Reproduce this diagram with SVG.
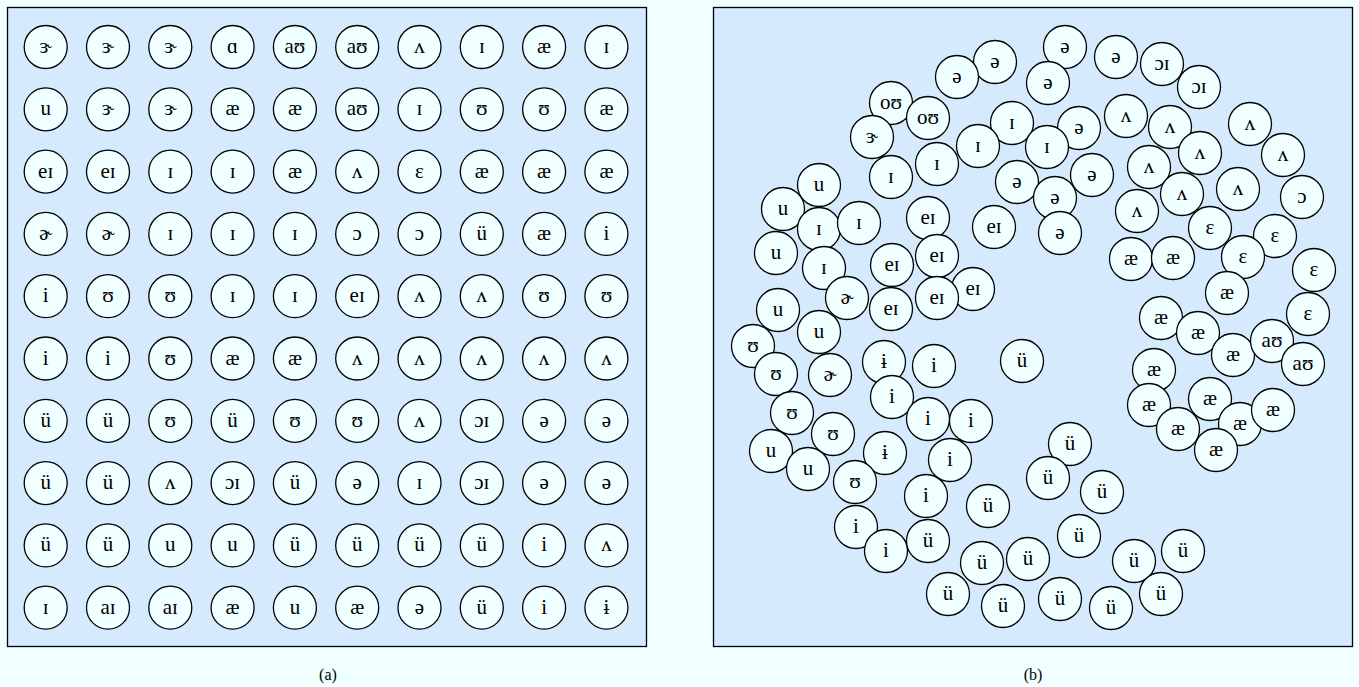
<svg xmlns="http://www.w3.org/2000/svg" width="1359" height="687" viewBox="0 0 1359 687">
<style>
.bg{fill:#F0FFFF}
.panel{fill:#D6EAFE;stroke:#000;stroke-width:1.3}
.n circle{fill:#F0FFFF;stroke:#000;stroke-width:1.3}
</style>
<rect class="bg" x="0" y="0" width="1359" height="687"/>
<rect class="panel" x="7.5" y="7.5" width="639" height="639"/>
<rect class="panel" x="713.5" y="7.5" width="639" height="639"/>
<g id="panel-a" font-family="'Liberation Serif', 'DejaVu Serif', serif" font-size="21" text-anchor="middle" fill="#000">
<g id="a00" class="n" transform="translate(45.7,47)"><circle r="21.5"/><text y="6">ɝ</text></g>
<g id="a01" class="n" transform="translate(108,47)"><circle r="21.5"/><text y="6">ɝ</text></g>
<g id="a02" class="n" transform="translate(170.3,47)"><circle r="21.5"/><text y="6">ɝ</text></g>
<g id="a03" class="n" transform="translate(232.6,47)"><circle r="21.5"/><text y="6">ɑ</text></g>
<g id="a04" class="n" transform="translate(294.9,47)"><circle r="21.5"/><text y="6">aʊ</text></g>
<g id="a05" class="n" transform="translate(357.2,47)"><circle r="21.5"/><text y="6">aʊ</text></g>
<g id="a06" class="n" transform="translate(419.5,47)"><circle r="21.5"/><text y="6">ʌ</text></g>
<g id="a07" class="n" transform="translate(481.8,47)"><circle r="21.5"/><text y="6">ɪ</text></g>
<g id="a08" class="n" transform="translate(544.1,47)"><circle r="21.5"/><text y="6">æ</text></g>
<g id="a09" class="n" transform="translate(606.4,47)"><circle r="21.5"/><text y="6">ɪ</text></g>
<g id="a10" class="n" transform="translate(45.7,109.3)"><circle r="21.5"/><text y="6">u</text></g>
<g id="a11" class="n" transform="translate(108,109.3)"><circle r="21.5"/><text y="6">ɝ</text></g>
<g id="a12" class="n" transform="translate(170.3,109.3)"><circle r="21.5"/><text y="6">ɝ</text></g>
<g id="a13" class="n" transform="translate(232.6,109.3)"><circle r="21.5"/><text y="6">æ</text></g>
<g id="a14" class="n" transform="translate(294.9,109.3)"><circle r="21.5"/><text y="6">æ</text></g>
<g id="a15" class="n" transform="translate(357.2,109.3)"><circle r="21.5"/><text y="6">aʊ</text></g>
<g id="a16" class="n" transform="translate(419.5,109.3)"><circle r="21.5"/><text y="6">ɪ</text></g>
<g id="a17" class="n" transform="translate(481.8,109.3)"><circle r="21.5"/><text y="6">ʊ</text></g>
<g id="a18" class="n" transform="translate(544.1,109.3)"><circle r="21.5"/><text y="6">ʊ</text></g>
<g id="a19" class="n" transform="translate(606.4,109.3)"><circle r="21.5"/><text y="6">æ</text></g>
<g id="a20" class="n" transform="translate(45.7,171.6)"><circle r="21.5"/><text y="6">eɪ</text></g>
<g id="a21" class="n" transform="translate(108,171.6)"><circle r="21.5"/><text y="6">eɪ</text></g>
<g id="a22" class="n" transform="translate(170.3,171.6)"><circle r="21.5"/><text y="6">ɪ</text></g>
<g id="a23" class="n" transform="translate(232.6,171.6)"><circle r="21.5"/><text y="6">ɪ</text></g>
<g id="a24" class="n" transform="translate(294.9,171.6)"><circle r="21.5"/><text y="6">æ</text></g>
<g id="a25" class="n" transform="translate(357.2,171.6)"><circle r="21.5"/><text y="6">ʌ</text></g>
<g id="a26" class="n" transform="translate(419.5,171.6)"><circle r="21.5"/><text y="6">ɛ</text></g>
<g id="a27" class="n" transform="translate(481.8,171.6)"><circle r="21.5"/><text y="6">æ</text></g>
<g id="a28" class="n" transform="translate(544.1,171.6)"><circle r="21.5"/><text y="6">æ</text></g>
<g id="a29" class="n" transform="translate(606.4,171.6)"><circle r="21.5"/><text y="6">æ</text></g>
<g id="a30" class="n" transform="translate(45.7,233.9)"><circle r="21.5"/><text y="6">ɚ</text></g>
<g id="a31" class="n" transform="translate(108,233.9)"><circle r="21.5"/><text y="6">ɚ</text></g>
<g id="a32" class="n" transform="translate(170.3,233.9)"><circle r="21.5"/><text y="6">ɪ</text></g>
<g id="a33" class="n" transform="translate(232.6,233.9)"><circle r="21.5"/><text y="6">ɪ</text></g>
<g id="a34" class="n" transform="translate(294.9,233.9)"><circle r="21.5"/><text y="6">ɪ</text></g>
<g id="a35" class="n" transform="translate(357.2,233.9)"><circle r="21.5"/><text y="6">ɔ</text></g>
<g id="a36" class="n" transform="translate(419.5,233.9)"><circle r="21.5"/><text y="6">ɔ</text></g>
<g id="a37" class="n" transform="translate(481.8,233.9)"><circle r="21.5"/><text y="6">ü</text></g>
<g id="a38" class="n" transform="translate(544.1,233.9)"><circle r="21.5"/><text y="6">æ</text></g>
<g id="a39" class="n" transform="translate(606.4,233.9)"><circle r="21.5"/><text y="6">i</text></g>
<g id="a40" class="n" transform="translate(45.7,296.2)"><circle r="21.5"/><text y="6">i</text></g>
<g id="a41" class="n" transform="translate(108,296.2)"><circle r="21.5"/><text y="6">ʊ</text></g>
<g id="a42" class="n" transform="translate(170.3,296.2)"><circle r="21.5"/><text y="6">ʊ</text></g>
<g id="a43" class="n" transform="translate(232.6,296.2)"><circle r="21.5"/><text y="6">ɪ</text></g>
<g id="a44" class="n" transform="translate(294.9,296.2)"><circle r="21.5"/><text y="6">ɪ</text></g>
<g id="a45" class="n" transform="translate(357.2,296.2)"><circle r="21.5"/><text y="6">eɪ</text></g>
<g id="a46" class="n" transform="translate(419.5,296.2)"><circle r="21.5"/><text y="6">ʌ</text></g>
<g id="a47" class="n" transform="translate(481.8,296.2)"><circle r="21.5"/><text y="6">ʌ</text></g>
<g id="a48" class="n" transform="translate(544.1,296.2)"><circle r="21.5"/><text y="6">ʊ</text></g>
<g id="a49" class="n" transform="translate(606.4,296.2)"><circle r="21.5"/><text y="6">ʊ</text></g>
<g id="a50" class="n" transform="translate(45.7,358.5)"><circle r="21.5"/><text y="6">i</text></g>
<g id="a51" class="n" transform="translate(108,358.5)"><circle r="21.5"/><text y="6">i</text></g>
<g id="a52" class="n" transform="translate(170.3,358.5)"><circle r="21.5"/><text y="6">ʊ</text></g>
<g id="a53" class="n" transform="translate(232.6,358.5)"><circle r="21.5"/><text y="6">æ</text></g>
<g id="a54" class="n" transform="translate(294.9,358.5)"><circle r="21.5"/><text y="6">æ</text></g>
<g id="a55" class="n" transform="translate(357.2,358.5)"><circle r="21.5"/><text y="6">ʌ</text></g>
<g id="a56" class="n" transform="translate(419.5,358.5)"><circle r="21.5"/><text y="6">ʌ</text></g>
<g id="a57" class="n" transform="translate(481.8,358.5)"><circle r="21.5"/><text y="6">ʌ</text></g>
<g id="a58" class="n" transform="translate(544.1,358.5)"><circle r="21.5"/><text y="6">ʌ</text></g>
<g id="a59" class="n" transform="translate(606.4,358.5)"><circle r="21.5"/><text y="6">ʌ</text></g>
<g id="a60" class="n" transform="translate(45.7,420.8)"><circle r="21.5"/><text y="6">ü</text></g>
<g id="a61" class="n" transform="translate(108,420.8)"><circle r="21.5"/><text y="6">ü</text></g>
<g id="a62" class="n" transform="translate(170.3,420.8)"><circle r="21.5"/><text y="6">ʊ</text></g>
<g id="a63" class="n" transform="translate(232.6,420.8)"><circle r="21.5"/><text y="6">ü</text></g>
<g id="a64" class="n" transform="translate(294.9,420.8)"><circle r="21.5"/><text y="6">ʊ</text></g>
<g id="a65" class="n" transform="translate(357.2,420.8)"><circle r="21.5"/><text y="6">ʊ</text></g>
<g id="a66" class="n" transform="translate(419.5,420.8)"><circle r="21.5"/><text y="6">ʌ</text></g>
<g id="a67" class="n" transform="translate(481.8,420.8)"><circle r="21.5"/><text y="6">ɔɪ</text></g>
<g id="a68" class="n" transform="translate(544.1,420.8)"><circle r="21.5"/><text y="6">ə</text></g>
<g id="a69" class="n" transform="translate(606.4,420.8)"><circle r="21.5"/><text y="6">ə</text></g>
<g id="a70" class="n" transform="translate(45.7,483.1)"><circle r="21.5"/><text y="6">ü</text></g>
<g id="a71" class="n" transform="translate(108,483.1)"><circle r="21.5"/><text y="6">ü</text></g>
<g id="a72" class="n" transform="translate(170.3,483.1)"><circle r="21.5"/><text y="6">ʌ</text></g>
<g id="a73" class="n" transform="translate(232.6,483.1)"><circle r="21.5"/><text y="6">ɔɪ</text></g>
<g id="a74" class="n" transform="translate(294.9,483.1)"><circle r="21.5"/><text y="6">ü</text></g>
<g id="a75" class="n" transform="translate(357.2,483.1)"><circle r="21.5"/><text y="6">ə</text></g>
<g id="a76" class="n" transform="translate(419.5,483.1)"><circle r="21.5"/><text y="6">ɪ</text></g>
<g id="a77" class="n" transform="translate(481.8,483.1)"><circle r="21.5"/><text y="6">ɔɪ</text></g>
<g id="a78" class="n" transform="translate(544.1,483.1)"><circle r="21.5"/><text y="6">ə</text></g>
<g id="a79" class="n" transform="translate(606.4,483.1)"><circle r="21.5"/><text y="6">ə</text></g>
<g id="a80" class="n" transform="translate(45.7,545.4)"><circle r="21.5"/><text y="6">ü</text></g>
<g id="a81" class="n" transform="translate(108,545.4)"><circle r="21.5"/><text y="6">ü</text></g>
<g id="a82" class="n" transform="translate(170.3,545.4)"><circle r="21.5"/><text y="6">u</text></g>
<g id="a83" class="n" transform="translate(232.6,545.4)"><circle r="21.5"/><text y="6">u</text></g>
<g id="a84" class="n" transform="translate(294.9,545.4)"><circle r="21.5"/><text y="6">ü</text></g>
<g id="a85" class="n" transform="translate(357.2,545.4)"><circle r="21.5"/><text y="6">ü</text></g>
<g id="a86" class="n" transform="translate(419.5,545.4)"><circle r="21.5"/><text y="6">ü</text></g>
<g id="a87" class="n" transform="translate(481.8,545.4)"><circle r="21.5"/><text y="6">ü</text></g>
<g id="a88" class="n" transform="translate(544.1,545.4)"><circle r="21.5"/><text y="6">i</text></g>
<g id="a89" class="n" transform="translate(606.4,545.4)"><circle r="21.5"/><text y="6">ʌ</text></g>
<g id="a90" class="n" transform="translate(45.7,607.7)"><circle r="21.5"/><text y="6">ɪ</text></g>
<g id="a91" class="n" transform="translate(108,607.7)"><circle r="21.5"/><text y="6">aɪ</text></g>
<g id="a92" class="n" transform="translate(170.3,607.7)"><circle r="21.5"/><text y="6">aɪ</text></g>
<g id="a93" class="n" transform="translate(232.6,607.7)"><circle r="21.5"/><text y="6">æ</text></g>
<g id="a94" class="n" transform="translate(294.9,607.7)"><circle r="21.5"/><text y="6">u</text></g>
<g id="a95" class="n" transform="translate(357.2,607.7)"><circle r="21.5"/><text y="6">æ</text></g>
<g id="a96" class="n" transform="translate(419.5,607.7)"><circle r="21.5"/><text y="6">ə</text></g>
<g id="a97" class="n" transform="translate(481.8,607.7)"><circle r="21.5"/><text y="6">ü</text></g>
<g id="a98" class="n" transform="translate(544.1,607.7)"><circle r="21.5"/><text y="6">i</text></g>
<g id="a99" class="n" transform="translate(606.4,607.7)"><circle r="21.5"/><text y="6">ɨ</text></g>
</g>
<g id="panel-b" font-family="'Liberation Serif', 'DejaVu Serif', serif" font-size="21" text-anchor="middle" fill="#000">
<g id="b01" class="n" transform="translate(995,62)"><circle r="21.5"/><text y="6">ə</text></g>
<g id="b02" class="n" transform="translate(957,77)"><circle r="21.5"/><text y="6">ə</text></g>
<g id="b03" class="n" transform="translate(891,103)"><circle r="21.5"/><text y="6">oʊ</text></g>
<g id="b04" class="n" transform="translate(928,118)"><circle r="21.5"/><text y="6">oʊ</text></g>
<g id="b05" class="n" transform="translate(872,137)"><circle r="21.5"/><text y="6">ɝ</text></g>
<g id="b06" class="n" transform="translate(1012,123)"><circle r="21.5"/><text y="6">ɪ</text></g>
<g id="b07" class="n" transform="translate(978,146)"><circle r="21.5"/><text y="6">ɪ</text></g>
<g id="b08" class="n" transform="translate(937,164)"><circle r="21.5"/><text y="6">ɪ</text></g>
<g id="b09" class="n" transform="translate(891,177)"><circle r="21.5"/><text y="6">ɪ</text></g>
<g id="b10" class="n" transform="translate(1017,182)"><circle r="21.5"/><text y="6">ə</text></g>
<g id="b11" class="n" transform="translate(819,185)"><circle r="21.5"/><text y="6">u</text></g>
<g id="b12" class="n" transform="translate(783,209)"><circle r="21.5"/><text y="6">u</text></g>
<g id="b13" class="n" transform="translate(819,229)"><circle r="21.5"/><text y="6">ɪ</text></g>
<g id="b14" class="n" transform="translate(859,223)"><circle r="21.5"/><text y="6">ɪ</text></g>
<g id="b15" class="n" transform="translate(928,218)"><circle r="21.5"/><text y="6">eɪ</text></g>
<g id="b16" class="n" transform="translate(994,227)"><circle r="21.5"/><text y="6">eɪ</text></g>
<g id="b17" class="n" transform="translate(1065,47)"><circle r="21.5"/><text y="6">ə</text></g>
<g id="b18" class="n" transform="translate(1048,83)"><circle r="21.5"/><text y="6">ə</text></g>
<g id="b19" class="n" transform="translate(1116,57)"><circle r="21.5"/><text y="6">ə</text></g>
<g id="b20" class="n" transform="translate(1162,64)"><circle r="21.5"/><text y="6">ɔɪ</text></g>
<g id="b21" class="n" transform="translate(1199,87)"><circle r="21.5"/><text y="6">ɔɪ</text></g>
<g id="b22" class="n" transform="translate(1079,128)"><circle r="21.5"/><text y="6">ə</text></g>
<g id="b23" class="n" transform="translate(1047,147)"><circle r="21.5"/><text y="6">ɪ</text></g>
<g id="b24" class="n" transform="translate(1126,116)"><circle r="21.5"/><text y="6">ʌ</text></g>
<g id="b25" class="n" transform="translate(1170,127)"><circle r="21.5"/><text y="6">ʌ</text></g>
<g id="b26" class="n" transform="translate(1200,153)"><circle r="21.5"/><text y="6">ʌ</text></g>
<g id="b27" class="n" transform="translate(1250,124)"><circle r="21.5"/><text y="6">ʌ</text></g>
<g id="b28" class="n" transform="translate(1283,155)"><circle r="21.5"/><text y="6">ʌ</text></g>
<g id="b29" class="n" transform="translate(1092,175)"><circle r="21.5"/><text y="6">ə</text></g>
<g id="b30" class="n" transform="translate(1055,198)"><circle r="21.5"/><text y="6">ə</text></g>
<g id="b31" class="n" transform="translate(1060,233)"><circle r="21.5"/><text y="6">ə</text></g>
<g id="b32" class="n" transform="translate(1149,167)"><circle r="21.5"/><text y="6">ʌ</text></g>
<g id="b33" class="n" transform="translate(1182,194)"><circle r="21.5"/><text y="6">ʌ</text></g>
<g id="b34" class="n" transform="translate(1238,189)"><circle r="21.5"/><text y="6">ʌ</text></g>
<g id="b35" class="n" transform="translate(1302,197)"><circle r="21.5"/><text y="6">ɔ</text></g>
<g id="b36" class="n" transform="translate(1137,211)"><circle r="21.5"/><text y="6">ʌ</text></g>
<g id="b37" class="n" transform="translate(1210,228)"><circle r="21.5"/><text y="6">ɛ</text></g>
<g id="b38" class="n" transform="translate(1275,236)"><circle r="21.5"/><text y="6">ɛ</text></g>
<g id="b39" class="n" transform="translate(1131,259)"><circle r="21.5"/><text y="6">æ</text></g>
<g id="b40" class="n" transform="translate(1173,258)"><circle r="21.5"/><text y="6">æ</text></g>
<g id="b41" class="n" transform="translate(1243,257)"><circle r="21.5"/><text y="6">ɛ</text></g>
<g id="b42" class="n" transform="translate(1314,270)"><circle r="21.5"/><text y="6">ɛ</text></g>
<g id="b43" class="n" transform="translate(1227,293)"><circle r="21.5"/><text y="6">æ</text></g>
<g id="b44" class="n" transform="translate(1308,314)"><circle r="21.5"/><text y="6">ɛ</text></g>
<g id="b45" class="n" transform="translate(1161,318)"><circle r="21.5"/><text y="6">æ</text></g>
<g id="b46" class="n" transform="translate(1198,333)"><circle r="21.5"/><text y="6">æ</text></g>
<g id="b47" class="n" transform="translate(1233,355)"><circle r="21.5"/><text y="6">æ</text></g>
<g id="b48" class="n" transform="translate(1272,341)"><circle r="21.5"/><text y="6">aʊ</text></g>
<g id="b49" class="n" transform="translate(1303,364)"><circle r="21.5"/><text y="6">aʊ</text></g>
<g id="b50" class="n" transform="translate(1154,370)"><circle r="21.5"/><text y="6">æ</text></g>
<g id="b51" class="n" transform="translate(1149,405)"><circle r="21.5"/><text y="6">æ</text></g>
<g id="b52" class="n" transform="translate(1210,399)"><circle r="21.5"/><text y="6">æ</text></g>
<g id="b53" class="n" transform="translate(1178,429)"><circle r="21.5"/><text y="6">æ</text></g>
<g id="b54" class="n" transform="translate(1240,424)"><circle r="21.5"/><text y="6">æ</text></g>
<g id="b55" class="n" transform="translate(1273,410)"><circle r="21.5"/><text y="6">æ</text></g>
<g id="b56" class="n" transform="translate(1216,450)"><circle r="21.5"/><text y="6">æ</text></g>
<g id="b57" class="n" transform="translate(1022,361)"><circle r="21.5"/><text y="6">ü</text></g>
<g id="b58" class="n" transform="translate(1070,444)"><circle r="21.5"/><text y="6">ü</text></g>
<g id="b59" class="n" transform="translate(776,253)"><circle r="21.5"/><text y="6">u</text></g>
<g id="b60" class="n" transform="translate(824,268)"><circle r="21.5"/><text y="6">ɪ</text></g>
<g id="b61" class="n" transform="translate(892,265)"><circle r="21.5"/><text y="6">eɪ</text></g>
<g id="b62" class="n" transform="translate(937,256)"><circle r="21.5"/><text y="6">eɪ</text></g>
<g id="b63" class="n" transform="translate(973,289)"><circle r="21.5"/><text y="6">eɪ</text></g>
<g id="b64" class="n" transform="translate(937,298)"><circle r="21.5"/><text y="6">eɪ</text></g>
<g id="b65" class="n" transform="translate(891,309)"><circle r="21.5"/><text y="6">eɪ</text></g>
<g id="b66" class="n" transform="translate(847,298)"><circle r="21.5"/><text y="6">ɚ</text></g>
<g id="b67" class="n" transform="translate(778,310)"><circle r="21.5"/><text y="6">u</text></g>
<g id="b68" class="n" transform="translate(819,332)"><circle r="21.5"/><text y="6">u</text></g>
<g id="b69" class="n" transform="translate(753,346)"><circle r="21.5"/><text y="6">ʊ</text></g>
<g id="b70" class="n" transform="translate(776,374)"><circle r="21.5"/><text y="6">ʊ</text></g>
<g id="b71" class="n" transform="translate(830,375)"><circle r="21.5"/><text y="6">ɚ</text></g>
<g id="b72" class="n" transform="translate(884,362)"><circle r="21.5"/><text y="6">ɨ</text></g>
<g id="b73" class="n" transform="translate(934,366)"><circle r="21.5"/><text y="6">i</text></g>
<g id="b74" class="n" transform="translate(892,397)"><circle r="21.5"/><text y="6">i</text></g>
<g id="b75" class="n" transform="translate(928,419)"><circle r="21.5"/><text y="6">i</text></g>
<g id="b76" class="n" transform="translate(971,421)"><circle r="21.5"/><text y="6">i</text></g>
<g id="b77" class="n" transform="translate(792,413)"><circle r="21.5"/><text y="6">ʊ</text></g>
<g id="b78" class="n" transform="translate(833,434)"><circle r="21.5"/><text y="6">ʊ</text></g>
<g id="b79" class="n" transform="translate(771,451)"><circle r="21.5"/><text y="6">u</text></g>
<g id="b80" class="n" transform="translate(885,453)"><circle r="21.5"/><text y="6">ɨ</text></g>
<g id="b81" class="n" transform="translate(950,460)"><circle r="21.5"/><text y="6">i</text></g>
<g id="b82" class="n" transform="translate(808,469)"><circle r="21.5"/><text y="6">u</text></g>
<g id="b83" class="n" transform="translate(855,482)"><circle r="21.5"/><text y="6">ʊ</text></g>
<g id="b84" class="n" transform="translate(926,496)"><circle r="21.5"/><text y="6">i</text></g>
<g id="b85" class="n" transform="translate(988,506)"><circle r="21.5"/><text y="6">ü</text></g>
<g id="b86" class="n" transform="translate(856,527)"><circle r="21.5"/><text y="6">i</text></g>
<g id="b87" class="n" transform="translate(886,551)"><circle r="21.5"/><text y="6">i</text></g>
<g id="b88" class="n" transform="translate(928,541)"><circle r="21.5"/><text y="6">ü</text></g>
<g id="b89" class="n" transform="translate(982,563)"><circle r="21.5"/><text y="6">ü</text></g>
<g id="b90" class="n" transform="translate(948,594)"><circle r="21.5"/><text y="6">ü</text></g>
<g id="b91" class="n" transform="translate(1003,606)"><circle r="21.5"/><text y="6">ü</text></g>
<g id="b92" class="n" transform="translate(1048,478)"><circle r="21.5"/><text y="6">ü</text></g>
<g id="b93" class="n" transform="translate(1102,492)"><circle r="21.5"/><text y="6">ü</text></g>
<g id="b94" class="n" transform="translate(1079,536)"><circle r="21.5"/><text y="6">ü</text></g>
<g id="b95" class="n" transform="translate(1028,559)"><circle r="21.5"/><text y="6">ü</text></g>
<g id="b96" class="n" transform="translate(1134,561)"><circle r="21.5"/><text y="6">ü</text></g>
<g id="b97" class="n" transform="translate(1183,551)"><circle r="21.5"/><text y="6">ü</text></g>
<g id="b98" class="n" transform="translate(1161,594)"><circle r="21.5"/><text y="6">ü</text></g>
<g id="b99" class="n" transform="translate(1060,599)"><circle r="21.5"/><text y="6">ü</text></g>
<g id="b100" class="n" transform="translate(1111,608)"><circle r="21.5"/><text y="6">ü</text></g>
</g>
<g id="captions" font-family="'Liberation Serif', 'DejaVu Serif', serif" font-size="16" text-anchor="middle" fill="#000">
<text x="328" y="680">(a)</text>
<text x="1033" y="680">(b)</text>
</g>
</svg>
